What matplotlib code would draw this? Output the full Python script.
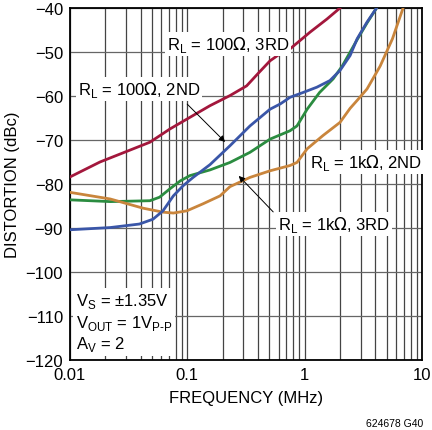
import matplotlib
matplotlib.use("Agg")
import matplotlib.pyplot as plt
import matplotlib.ticker as mticker

# ---- data -------------------------------------------------------------
red_f = [0.01, 0.018, 0.048, 0.071, 0.106, 0.156, 0.231, 0.32, 0.41, 0.507,
         0.61, 0.75, 1.11, 1.55, 2.0]
red_db = [-78.4, -75.0, -70.5, -67.5, -64.8, -62.2, -59.9, -57.7, -54.6,
          -52.0, -50.5, -49.3, -45.5, -42.5, -40.0]

blue_f = [0.01, 0.022, 0.039, 0.051, 0.062, 0.076, 0.092, 0.112, 0.156,
          0.231, 0.342, 0.507, 0.62, 0.75, 0.97, 1.27, 1.64, 2.0, 2.44, 2.8,
          3.4, 4.1]
blue_db = [-90.4, -89.9, -89.1, -88.0, -86.1, -82.7, -80.4, -78.5, -75.6,
           -71.3, -66.8, -63.0, -61.8, -60.3, -59.2, -58.0, -56.5, -54.2,
           -50.8, -47.0, -43.2, -40.0]

green_f = [0.01, 0.022, 0.048, 0.058, 0.071, 0.087, 0.105, 0.156, 0.231,
           0.342, 0.507, 0.75, 0.86, 1.05, 1.34, 1.75, 2.1, 2.8, 3.4, 4.1]
green_db = [-83.6, -84.0, -83.8, -83.0, -81.1, -79.3, -78.1, -76.8, -75.1,
            -72.8, -69.8, -67.9, -66.8, -63.0, -59.2, -56.1, -53.1, -47.2,
            -43.4, -40.0]

orange_f = [0.01, 0.022, 0.042, 0.062, 0.076, 0.099, 0.136, 0.19, 0.231,
            0.342, 0.507, 0.75, 0.86, 1.05, 1.43, 2.0, 2.44, 2.8, 3.4, 4.4,
            5.6, 6.9]
orange_db = [-81.9, -83.4, -85.5, -86.4, -86.6, -86.1, -84.5, -82.7, -80.6,
             -78.5, -77.0, -75.8, -75.1, -72.0, -69.0, -66.0, -62.8, -61.0,
             -58.4, -53.2, -47.0, -40.0]

y_ticks = [-120, -110, -100, -90, -80, -70, -60, -50, -40]
x_ticks = [0.01, 0.1, 1, 10]
x_ticklabels = ["0.01", "0.1", "1", "10"]

RED, BLUE, GREEN, ORANGE = "#a3173c", "#3a56a8", "#2b8c40", "#c9853c"

plt.rcParams.update({
    "font.family": ["Liberation Sans Narrow", "Liberation Sans", "DejaVu Sans"],
    "font.size": 11,
    "mathtext.fontset": "custom",
    "mathtext.rm": "Liberation Sans Narrow",
})

fig = plt.figure(figsize=(4.32, 4.31), dpi=100)
ax = fig.add_axes([70 / 432, 1 - 361 / 431, 352 / 432, 352 / 431])
ax.set_xscale("log")
ax.set_xlim(0.01, 10)
ax.set_ylim(-120, -40)

ax.plot(red_f, red_db, color=RED, lw=2.0, zorder=4)
ax.plot(green_f, green_db, color=GREEN, lw=2.0, zorder=4)
ax.plot(blue_f, blue_db, color=BLUE, lw=2.0, zorder=5)
ax.plot(orange_f, orange_db, color=ORANGE, lw=2.0, zorder=4)

ax.set_yticks(y_ticks)
ax.set_yticklabels([f"\u2212{abs(v)}" for v in y_ticks], fontsize=12)
ax.set_xticks(x_ticks)
ax.set_xticklabels(x_ticklabels, fontsize=12)
ax.xaxis.set_minor_locator(mticker.LogLocator(base=10, subs=range(2, 10)))
ax.xaxis.set_minor_formatter(mticker.NullFormatter())
ax.tick_params(which="both", length=0, pad=5)
ax.grid(True, which="both", axis="x", color="#444444", lw=0.9, zorder=1)
ax.grid(True, which="major", axis="y", color="#666666", lw=0.9, zorder=1)
for s in ax.spines.values():
    s.set_color("black")
    s.set_linewidth(1.3)

ax.set_xlabel("FREQUENCY (MHz)", fontsize=12, labelpad=6)
ax.set_ylabel("DISTORTION (dBc)", fontsize=12, labelpad=4)

box = dict(facecolor="white", edgecolor="none", pad=1.5)
kw = dict(fontsize=12, bbox=box, zorder=6, va="center")
ax.text(0.067, -48.2, r"R$_\mathregular{L}$ = 100$\Omega$, 3RD", **kw)
ax.text(0.0117, -58.4, r"R$_\mathregular{L}$ = 100$\Omega$, 2ND", **kw)
ax.text(1.1, -75.0, r"R$_\mathregular{L}$ = 1k$\Omega$, 2ND", **kw)
ax.text(0.59, -89.1, r"R$_\mathregular{L}$ = 1k$\Omega$, 3RD", **kw)

arrow = dict(arrowstyle="-|>", color="black", lw=0.7, mutation_scale=9)
ax.annotate("", xy=(0.218, -70.9), xytext=(0.096, -61.4), arrowprops=arrow,
            zorder=7)
ax.annotate("", xy=(0.264, -77.7), xytext=(0.56, -86.8), arrowprops=arrow,
            zorder=7)

ax.text(0.0112, -111.4,
        "V$_\\mathregular{S}$ = \u00b11.35V\n"
        "V$_\\mathregular{OUT}$ = 1V$_\\mathregular{P\u2010P}$\n"
        "A$_\\mathregular{V}$ = 2",
        fontsize=12, va="center", ha="left", linespacing=1.2,
        bbox=dict(facecolor="white", edgecolor="none", pad=2), zorder=6)

fig.text(423 / 432, 1 - 424 / 431, "624678 G40", fontsize=7.5, ha="right",
         va="center")

fig.savefig("out.png", dpi=100)
